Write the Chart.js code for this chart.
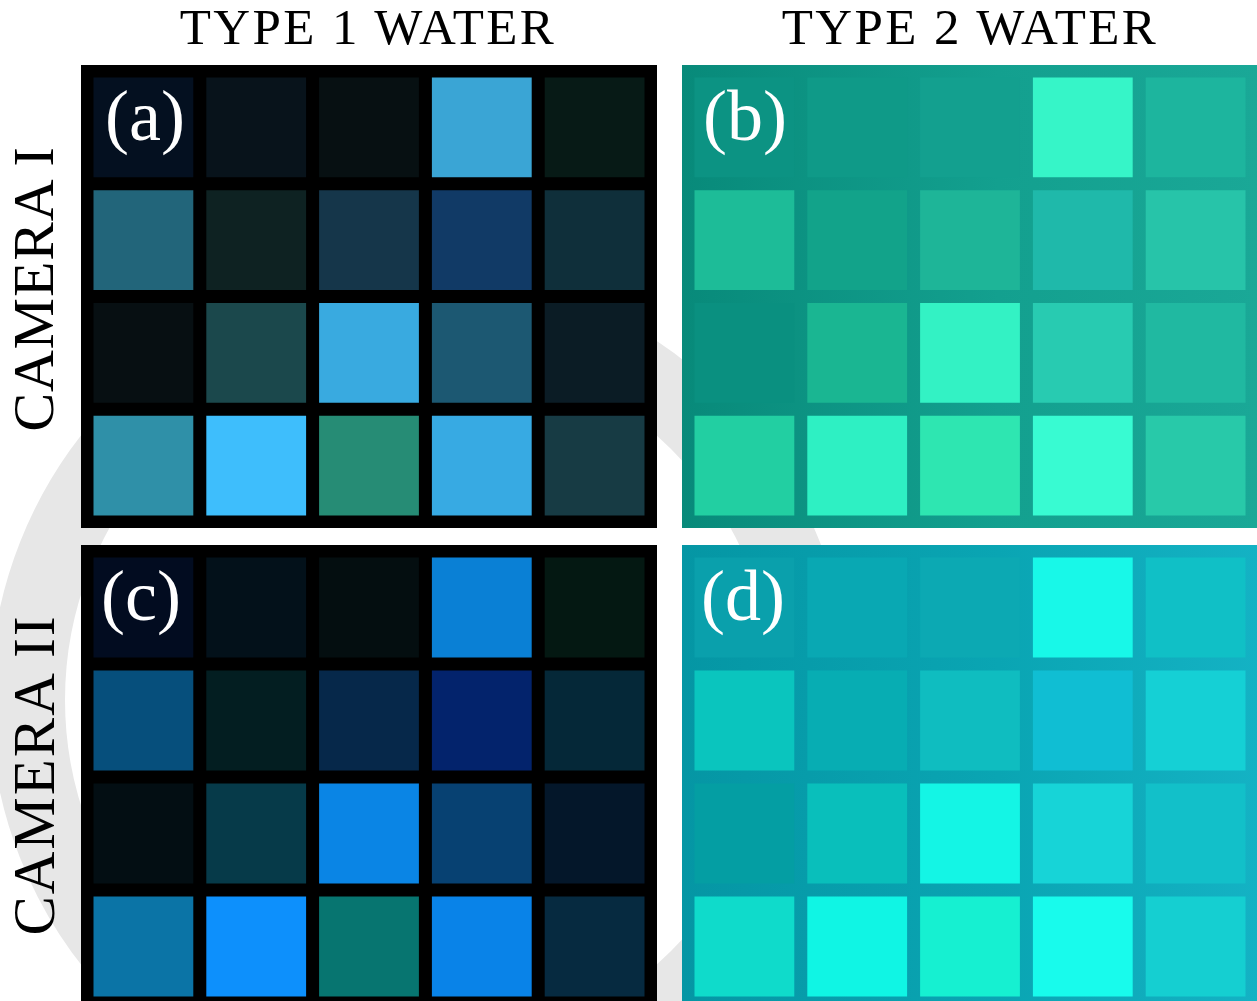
<!DOCTYPE html>
<html>
<head>
<meta charset="utf-8">
<script src="https://cdn.jsdelivr.net/npm/chart.js@4.4.1/dist/chart.umd.min.js"></script>
<style>
  html, body { margin: 0; padding: 0; background: #fff; }
  body { width: 1257px; height: 1001px; position: relative; overflow: hidden; font-family: "Liberation Serif", "Times New Roman", serif; }
  .ring { position: absolute; left: -10px; top: 270px; width: 860px; height: 860px; box-sizing: border-box;
          border: 75px solid #e7e7e7; border-radius: 50%; z-index: 0; }
  .panel { position: absolute; z-index: 1; }
  .title { position: absolute; top: 2px; width: 576px; text-align: center; font-size: 51px; letter-spacing: 2.4px;
           line-height: 1; color: #000; z-index: 2; white-space: nowrap; }
  .side { position: absolute; width: 400px; height: 58px; line-height: 58px; text-align: center; color: #000; z-index: 2;
          transform: rotate(-90deg); white-space: nowrap; }
</style>
</head>
<body>
<div class="ring"></div>

<div class="title" style="left:80px">TYPE 1 WATER</div>
<div class="title" style="left:682px">TYPE 2 WATER</div>
<div class="side" style="left:-166.5px; top:259.5px; font-size:58px; letter-spacing:0.8px">CAMERA I</div>
<div class="side" style="left:-166.5px; top:746px; font-size:59px; letter-spacing:2px">CAMERA II</div>

<canvas id="panelA" class="panel" width="576" height="463" style="left:81px; top:65px; background:#000"></canvas>
<canvas id="panelB" class="panel" width="576" height="463" style="left:682px; top:65px; background:linear-gradient(90deg,#088a7a,#13a08f 55%,#1aa897)"></canvas>
<canvas id="panelC" class="panel" width="576" height="464" style="left:81px; top:545px; background:#000"></canvas>
<canvas id="panelD" class="panel" width="576" height="464" style="left:682px; top:545px; background:linear-gradient(90deg,#0596a4,#0aa5b3 55%,#14b2c4)"></canvas>

<script>
// Patch grid: 5 columns x 4 rows, colours (rows top to bottom)
const columns = ['1', '2', '3', '4', '5'];
const rowNames = ['row 1', 'row 2', 'row 3', 'row 4'];
const cellsPerRow = [1, 1, 1, 1, 1];

// (a) type 1 water, camera I
const type1Cam1 = [
    ['#041020', '#08131b', '#071012', '#3aa5d5', '#071a16'],
    ['#22657a', '#0e2222', '#15364a', '#113a66', '#0f2f3a'],
    ['#070f12', '#1b484c', '#39aae0', '#1c5872', '#0b1c25'],
    ['#2f90a8', '#3ebefc', '#268c75', '#37aae3', '#173b44']
];
// (b) type 2 water, camera I
const type2Cam1 = [
    ['#0c9383', '#0f9a88', '#13a08f', '#36f5c8', '#1db59e'],
    ['#1dbc98', '#12a38a', '#1eb598', '#1fb9aa', '#27c4a9'],
    ['#0a9080', '#1ab692', '#33f2c4', '#28cbb1', '#20b9a1'],
    ['#22cfa2', '#2ef0c3', '#2ee6b1', '#38fbd2', '#28c9a9']
];
// (c) type 1 water, camera II
const type1Cam2 = [
    ['#020c20', '#03111a', '#040e10', '#0a80d5', '#041812'],
    ['#064f7c', '#031e21', '#06284a', '#03236c', '#052838'],
    ['#030e13', '#063a49', '#0a85e5', '#074172', '#04172a'],
    ['#0b74a6', '#0d90fc', '#077570', '#0983e8', '#062a40']
];
// (d) type 2 water, camera II
const type2Cam2 = [
    ['#0aa0ac', '#09a8b3', '#0ca9b3', '#18f8e8', '#10c0c6'],
    ['#0ac5be', '#07adb3', '#0fbdc0', '#10bed3', '#15d0d5'],
    ['#049ea3', '#09bfbb', '#14f5e5', '#17d4d7', '#12c0c9'],
    ['#0fdbcb', '#10f5e4', '#16f0d1', '#18fbec', '#15cfd1']
];

const panelLetter = {
    id: 'panelLetter',
    afterDraw(chart, args, opts) {
        const { ctx, chartArea } = chart;
        ctx.save();
        ctx.font = '72px "Liberation Serif", "Times New Roman", serif';
        ctx.fillStyle = '#ffffff';
        ctx.textAlign = 'left';
        ctx.textBaseline = 'alphabetic';
        ctx.fillText(opts.text, chartArea.left + opts.dx, chartArea.top + 69);
        ctx.restore();
    }
};

function drawPanel(canvasId, colours, letter, dx) {
    const ctx = document.getElementById(canvasId).getContext('2d');
    new Chart(ctx, {
        type: 'bar',
        data: {
            labels: columns,
            datasets: rowNames.map((name, r) => ({
                label: name,
                data: cellsPerRow,
                backgroundColor: colours[r]
            }))
        },
        options: {
            responsive: false,
            animation: false,
            events: [],
            layout: { padding: 6 },
            datasets: {
                bar: {
                    categoryPercentage: 1,
                    barPercentage: 1,
                    borderWidth: 6.5,
                    borderColor: 'rgba(0,0,0,0)',
                    borderSkipped: false,
                    inflateAmount: 0
                }
            },
            scales: {
                x: { stacked: true, display: false },
                y: { stacked: true, display: false, min: 0, max: rowNames.length, reverse: true }
            },
            plugins: {
                legend: { display: false },
                tooltip: { enabled: false },
                panelLetter: { text: letter, dx }
            }
        },
        plugins: [panelLetter]
    });
}

drawPanel('panelA', type1Cam1, '(a)', 18);
drawPanel('panelB', type2Cam1, '(b)', 15);
drawPanel('panelC', type1Cam2, '(c)', 14);
drawPanel('panelD', type2Cam2, '(d)', 13);
</script>
</body>
</html>
